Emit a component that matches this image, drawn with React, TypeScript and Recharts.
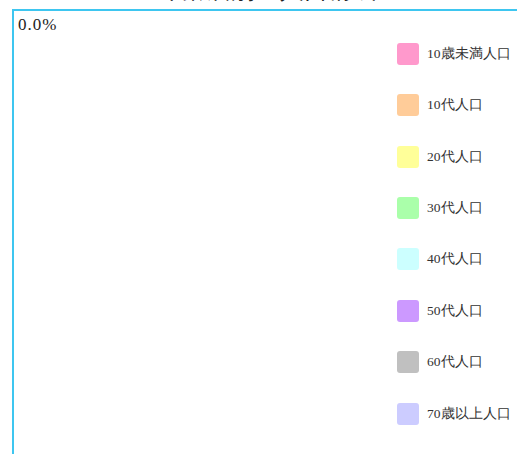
import { PieChart, Pie, Cell, Legend } from 'recharts'

const categories = ['10歳未満人口', '10代人口', '20代人口', '30代人口', '40代人口', '50代人口', '60代人口', '70歳以上人口']
const population = [0, 0, 0, 0, 0, 0, 0, 0]
const COLORS = ['#ff99cc', '#ffcc99', '#ffff99', '#aaffaa', '#ccffff', '#cc99ff', '#c0c0c0', '#ccccff']
const title = '年齢層別の人口構成'
const shareLabel = '0.0%'

const data = categories.map((name, i) => ({ name, value: population[i] }))

const LegendList = () => (
  <div>
    {categories.map((name, i) => (
      <div key={name} style={{ height: 51.43, display: 'flex', alignItems: 'center' }}>
        <span style={{ width: 22, height: 22, borderRadius: 3, background: COLORS[i], display: 'inline-block' }} />
        <span style={{ marginLeft: 8, fontSize: 13.5, color: '#333', fontFamily: 'serif' }}>{name}</span>
      </div>
    ))}
  </div>
)

export default function App() {
  return (
    <div style={{ position: 'fixed', left: 0, top: 0, width: 517, height: 454, overflow: 'hidden', background: '#fff', fontFamily: 'serif' }}>
      <div style={{ position: 'absolute', left: 12, top: -24, width: 510, textAlign: 'center', fontSize: 24, color: '#222', lineHeight: '28px' }}>
        {title}
      </div>
      <div style={{ position: 'absolute', left: 12, top: 9, width: 508, height: 450, borderLeft: '2px solid #3ec6f0', borderTop: '2px solid #3ec6f0' }}>
        <div style={{ position: 'absolute', left: 4, top: 4, fontSize: 17, letterSpacing: 1, color: '#222', zIndex: 2 }}>{shareLabel}</div>
        <PieChart width={508} height={450}>
          <Pie
            data={data}
            dataKey="value"
            nameKey="name"
            cx={190}
            cy={225}
            outerRadius={160}
            isAnimationActive={false}
          >
            {data.map((entry, index) => (
              <Cell key={`cell-${index}`} fill={COLORS[index % COLORS.length]} />
            ))}
          </Pie>
          <Legend
            layout="vertical"
            align="right"
            verticalAlign="top"
            content={() => <LegendList />}
            wrapperStyle={{ left: 383, top: 17, width: 125 }}
          />
        </PieChart>
      </div>
    </div>
  )
}
